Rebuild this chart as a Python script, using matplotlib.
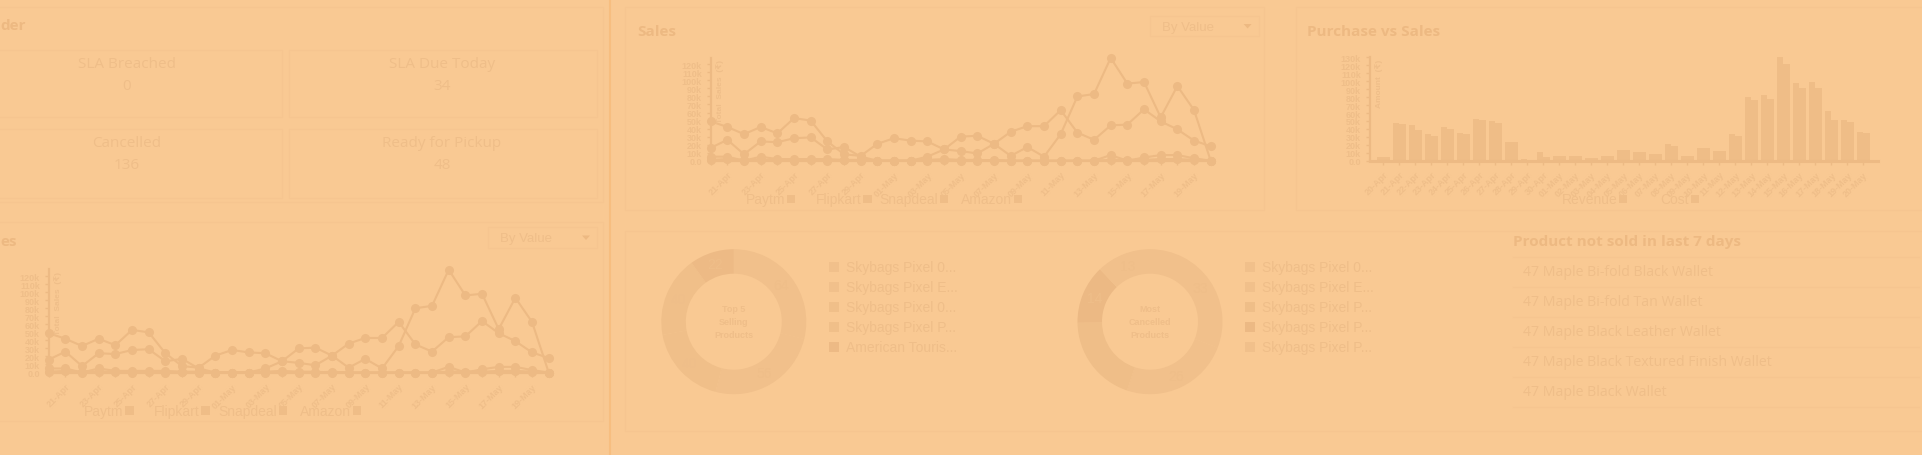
import matplotlib
matplotlib.use('Agg')
import matplotlib.pyplot as plt
from matplotlib.patches import Rectangle, Polygon
import numpy as np
import pandas as pd

plt.rcParams['font.family'] = ['Liberation Sans', 'DejaVu Sans']

# ---- data (values in thousands of rupees) ----
dates = [d.strftime('%d-%b') for d in pd.date_range('2023-04-20', '2023-05-20')]
paytm = [49, 42, 33, 42, 34, 53, 50, 24, 8, 6, 21, 28, 25, 24, 14, 30, 31, 21, 36, 43, 43,
         63, 35, 26, 44, 45, 64, 49, 39, 25, 18]
flipkart = [16, 26, 8, 24, 23, 28, 29, 14, 17, 5, 0, 0, 0, 5, 14, 12, 9, 21, 6, 17, 5,
            33, 80, 83, 128, 96, 98, 54, 93, 63, 0]
snapdeal = [5, 5, 0, 5, 2, 2, 2, 2, 1, 1, 0, 0, 0, 1, 2, 1, 1, 0, 0, 0, 0,
            0, 0, 0, 7, 0, 4, 7, 7, 3, 0]
amazon = [1, 2, 1, 1, 1, 0, 1, 0, 1, 0, 0, 0, 0, 0, 1, 0, 0, 1, 0, 0, 0,
          0, 0, 0, 1, 1, 1, 2, 2, 1, 0]
channels = ['Paytm', 'Flipkart', 'Snapdeal', 'Amazon']

revenue = [5, 48, 45.5, 33, 42, 34.5, 53, 50, 24, 2.5, 10.5, 6, 6, 3, 6, 14, 11, 9, 21, 6, 16.5,
           12.5, 33, 80, 83, 131, 98, 99, 62, 51, 36]
cost = [5, 46, 39, 31, 40, 33, 51, 47, 23, 1, 5, 6, 6, 3, 6, 13, 11, 9, 19, 6, 15.5,
        12.5, 31.5, 76, 78, 122, 91, 92, 51, 49, 35]

kpi_labels = ['SLA Breached', 'SLA Due Today', 'Cancelled', 'Ready for Pickup']
kpi_values = ['0', '34', '136', '48']

top_selling = [64, 56, 40, 40, 22]
top_selling_names = ['Skybags Pixel 0...', 'Skybags Pixel E...', 'Skybags Pixel 0...',
                     'Skybags Pixel P...', 'American Touris...']
most_cancelled = [33, 26, 21, 14, 13]
most_cancelled_names = ['Skybags Pixel 0...', 'Skybags Pixel E...', 'Skybags Pixel P...',
                        'Skybags Pixel P...', 'Skybags Pixel P...']

not_sold = ['47 Maple Bi-fold Black Wallet', '47 Maple Bi-fold Tan Wallet',
            '47 Maple Black Leather Wallet', '47 Maple Black Textured Finish Wallet',
            '47 Maple Black Wallet']

# ---- colours (dashboard seen through an orange overlay) ----
BG = '#F9C993'
BORDER = '#F6C590'
DIVIDER = '#F7BE80'
LINE = '#EDBA84'
BAR = '#EFBD87'
TXT = '#EFBE89'
HEAD = '#EDB982'
SLICES1 = ['#F1C08B', '#F1C08B', '#F0BF89', '#F0BF89', '#EDBA85']
SLICES2 = ['#F1C08B', '#F1C08B', '#EFBE88', '#ECB984', '#F1C08B']

W, H = 1922, 456
fig = plt.figure(figsize=(W / 100, H / 100), dpi=100)
fig.patch.set_facecolor(BG)


def add_px_axes(x0, y0, x1, y1):
    # pixel box (top-left origin) -> figure fraction axes
    return fig.add_axes([x0 / W, 1 - y1 / H, (x1 - x0) / W, (y1 - y0) / H])


base = add_px_axes(0, 0, W, H)
base.set_xlim(0, W)
base.set_ylim(H, 0)
base.axis('off')
renderer = fig.canvas.get_renderer()


def box(x0, y0, x1, y1, ec=BORDER, lw=0.8):
    base.add_patch(Rectangle((x0, y0), x1 - x0, y1 - y0, fill=False, ec=ec, lw=lw))


def dropdown(x0, y0, x1, y1):
    box(x0, y0, x1, y1)
    yc = (y0 + y1) / 2
    base.text(x0 + 12, yc + 0.5, 'By Value', fontsize=9.5, color=TXT, va='center', ha='left')
    base.add_patch(Polygon([[x1 - 15, yc - 2], [x1 - 7, yc - 2], [x1 - 11, yc + 2.5]],
                           closed=True, fc=HEAD, ec='none'))


def legend_row(items, y, fontsize=10):
    for x, label in items:
        t = base.text(x, y, label, fontsize=fontsize, color=TXT, va='center', ha='left')
        bb = t.get_window_extent(renderer)
        base.add_patch(Rectangle((bb.x1 + 1.5, y - 4.5), 8.5, 8.5, fc=BAR, ec='none'))


def style_axis(ax):
    ax.set_facecolor('none')
    for side in ['top', 'right']:
        ax.spines[side].set_visible(False)
    for side in ['left', 'bottom']:
        ax.spines[side].set_color(LINE)
        ax.spines[side].set_linewidth(1.6)
    ax.tick_params(axis='both', colors=LINE, labelcolor=TXT, labelsize=6.5, width=1, length=3)
    for lab in ax.get_yticklabels() + ax.get_xticklabels():
        lab.set_fontweight('bold')


def k_label(v):
    return '0.0' if v == 0 else f'{int(v)}k'


def sales_chart(x0, y_bottom):
    px_per_k = 0.803
    ax = add_px_axes(x0, y_bottom - 128.5 * px_per_k, x0 + 500, y_bottom)
    idx = np.arange(len(dates))
    for series in [amazon, snapdeal, flipkart, paytm]:
        ax.plot(idx, series, '-o', color=LINE, lw=1.5, ms=5.5, clip_on=False, zorder=3)
    ax.set_xlim(0, len(dates) - 1)
    ax.set_ylim(0, 128.5)
    yt = np.arange(0, 121, 10)
    ax.set_yticks(yt)
    ax.set_yticklabels([k_label(v) for v in yt])
    ax.set_xticks(idx)
    ax.set_xticklabels([d if i % 2 == 1 else '' for i, d in enumerate(dates)],
                       rotation=45, ha='right', va='top', rotation_mode='anchor')
    style_axis(ax)
    ax.text(9.5 / 500, 0.985, 'Total  Sales  (₹)', transform=ax.transAxes, rotation=90,
            ha='center', va='top', fontsize=6, fontweight='bold', color=TXT)
    return ax


def donut(cx, cy, values, colors, center_lines, names):
    r = 72.5
    ax = add_px_axes(cx - r, cy - r, cx + r, cy + r)
    ax.pie(values, colors=colors, startangle=90, counterclock=False, radius=1,
           wedgeprops=dict(width=24.5 / r, edgecolor='none'))
    ax.set_xlim(-1, 1)
    ax.set_ylim(-1, 1)
    ax.set_aspect('equal')
    ax.axis('off')
    total = sum(values)
    start = 0
    for v in values:
        mid = np.deg2rad(360 * (start + v / 2) / total)
        rr = 0.831
        ax.text(rr * np.sin(mid), rr * np.cos(mid), str(v), fontsize=10, color=TXT,
                ha='center', va='center')
        start += v
    for k, line in enumerate(center_lines):
        base.text(cx, cy - 12.8 + 12.8 * k, line, fontsize=6.5, fontweight='bold',
                  color=TXT, ha='center', va='center')
    lx = cx + 95
    for k, (name, c) in enumerate(zip(names, colors)):
        y = cy - 54.4 + 20 * k
        base.add_patch(Rectangle((lx, y - 5), 10, 10, fc=c, ec='none'))
        base.text(lx + 17.5, y, name, fontsize=10, color=TXT, ha='left', va='center')


# ---- left column ----
box(-10, 8, 603, 203)
base.text(0, 26, 'der', fontsize=11, fontweight='bold', family='Open Sans',
          color=HEAD, ha='left', va='center')
kpi_boxes = [(-10, 50.7, 282, 118), (288.6, 50.7, 597, 118),
             (-10, 130, 282, 199), (288.6, 130, 597, 199)]
for (x0, y0, x1, y1), lab, val in zip(kpi_boxes, kpi_labels, kpi_values):
    box(x0, y0, x1, y1)
    xc = 126.5 if x0 < 0 else 442
    base.text(xc, y0 + 13.5, lab, fontsize=11, family='Open Sans', color=TXT,
              ha='center', va='center')
    base.text(xc, y0 + 36, val, fontsize=11, family='Open Sans', color=TXT,
              ha='center', va='center')

box(-10, 223, 603, 421.7)
base.text(0, 242, 'es', fontsize=11, fontweight='bold', family='Open Sans',
          color=HEAD, ha='left', va='center')
dropdown(488, 228, 597, 249)
sales_chart(48.7, 373.5)
legend_row([(84, 'Paytm'), (154, 'Flipkart'), (218.5, 'Snapdeal'), (300, 'Amazon')], 412)

base.plot([610, 610], [0, H], color=DIVIDER, lw=1.5)

# ---- middle top: sales ----
box(625, 8, 1264, 210.7)
base.text(637, 31.5, 'Sales', fontsize=11, fontweight='bold', family='Open Sans',
          color=HEAD, ha='left', va='center')
dropdown(1149.6, 16.7, 1258.6, 37.3)
sales_chart(710.7, 161.7)
legend_row([(745.5, 'Paytm'), (815.8, 'Flipkart'), (879.7, 'Snapdeal'), (961, 'Amazon')], 200.3)

# ---- purchase vs sales ----
box(1296, 8, 1930, 210.7)
base.text(1306.6, 31.5, 'Purchase vs Sales', fontsize=11, fontweight='bold',
          family='Open Sans', color=HEAD, ha='left', va='center')
px_per_k = 0.794
axb = add_px_axes(1370, 161.7 - 130 * px_per_k, 1878, 161.7)
xb = np.arange(len(dates))
axb.bar(xb - 0.21, revenue, 0.4, color=BAR, zorder=2)
axb.bar(xb + 0.21, cost, 0.4, color=BAR, zorder=2)
axb.set_xlim(-0.83, 30.92)
axb.set_ylim(0, 130)
ytb = np.arange(0, 131, 10)
axb.set_yticks(ytb)
axb.set_yticklabels([k_label(v) for v in ytb])
axb.set_xticks(xb)
axb.set_xticklabels(dates, rotation=45, ha='right', va='top', rotation_mode='anchor')
style_axis(axb)
axb.spines['bottom'].set_linewidth(2.2)
axb.text(9 / 508, 0.99, 'Amount  (₹)', transform=axb.transAxes, rotation=90,
         ha='center', va='top', fontsize=6, fontweight='bold', color=TXT)
legend_row([(1561.7, 'Revenue'), (1660.7, 'Cost')], 200.3)

# ---- bottom: donuts and product list ----
box(625, 231.7, 1930, 431.7)
donut(733.8, 322.7, top_selling, SLICES1, ['Top 5', 'Selling', 'Products'], top_selling_names)
donut(1150, 322.7, most_cancelled, SLICES2, ['Most', 'Cancelled', 'Products'],
      most_cancelled_names)

base.text(1513.3, 242, 'Product not sold in last 7 days', fontsize=11, fontweight='bold',
          family='Open Sans', color=HEAD, ha='left', va='center')
base.plot([1513.3, 1919], [258.3, 258.3], color=BORDER, lw=0.8)
for k, item in enumerate(not_sold):
    y = 272.7 + 30 * k
    base.text(1523.3, y, item, fontsize=10.2, family='Open Sans', color=TXT,
              ha='left', va='center')
    base.plot([1513.3, 1919], [y + 15.6, y + 15.6], color=BORDER, lw=0.8)

fig.savefig('out.png', dpi=100, facecolor=BG)
